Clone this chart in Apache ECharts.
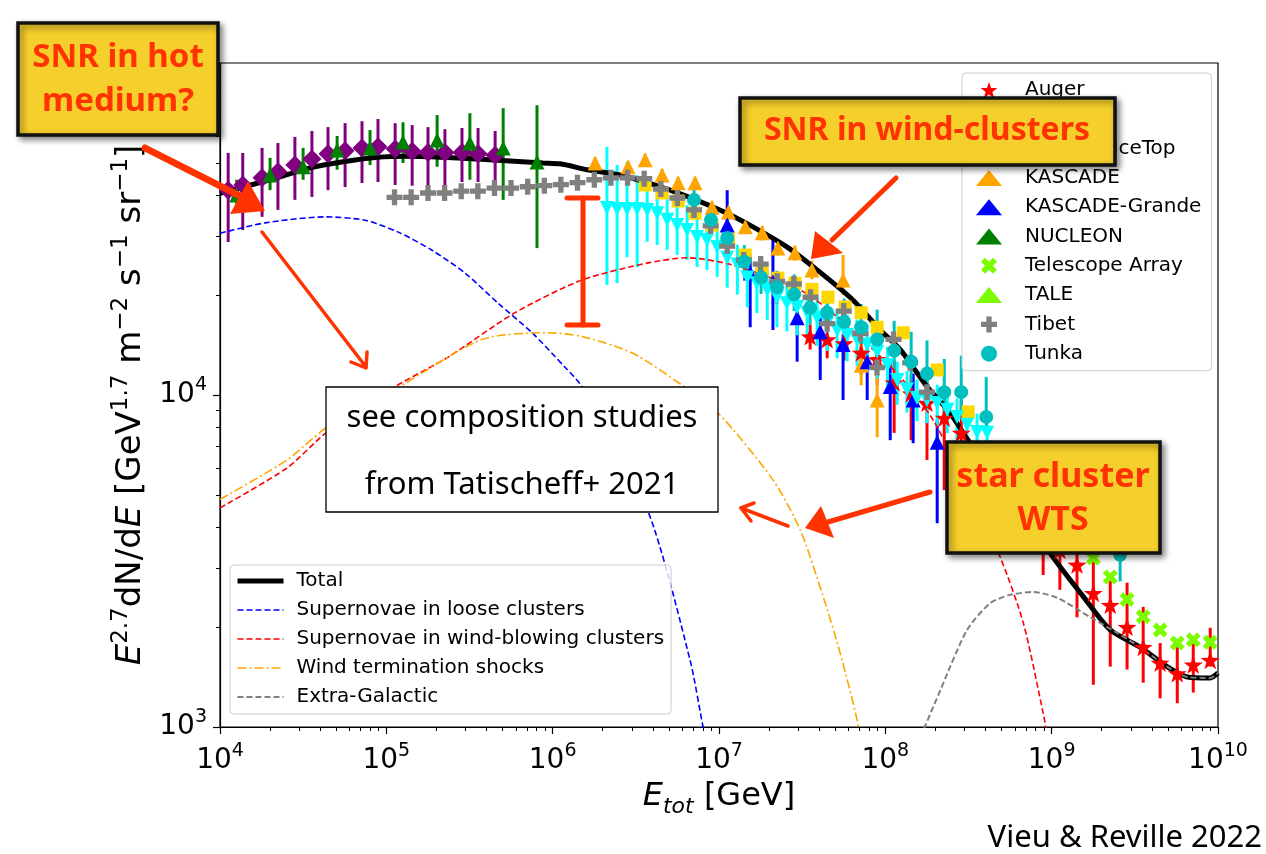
<!DOCTYPE html>
<html>
<head>
<meta charset="utf-8">
<title>All-particle cosmic-ray spectrum and star-cluster model</title>
<script src="https://cdn.jsdelivr.net/npm/echarts@6.0.0/dist/echarts.min.js"></script>
<style>
  html, body { margin: 0; padding: 0; background: #fff; }
  #chart { width: 1266px; height: 854px; }
</style>
</head>
<body>
<div id="chart"></div>
<script>
// ---------------- axis ticks (decade exponents) ----------------
const xTickExponents = [4, 5, 6, 7, 8, 9, 10];
const yTickExponents = [3, 4, 5];

// ---------------- measurements: energy [GeV], E^2.7 dN/dE ----------------
const augerE  = [3.53e7, 4.47e7, 5.65e7, 7.16e7, 8.93e7, 1.13e8, 1.43e8, 1.78e8, 2.26e8, 2.86e8, 8.89e8, 1.12e9, 1.42e9, 1.78e9, 2.25e9, 2.84e9, 3.55e9, 4.49e9, 5.69e9, 7.10e9, 8.98e9];
const augerF  = [15000, 14700, 14300, 13400, 12800, 10900, 10100, 9460, 8530, 7690, 3920, 3410, 3080, 2530, 2330, 2000, 1740, 1560, 1450, 1540, 1590];
const augerLo = [13700, 12900, 12700, 11500, 10700, 7690, 7310, 6370, 5170, 4830, 2870, 2590, 2140, 1340, 1520, 1490, 1360, 1220, 1180, 1270, 1520];
const augerHi = [16300, 16300, 15700, 15200, 14700, 12700, 11500, 11100, 10400, 9660, 4360, 3920, 3480, 3180, 2770, 2720, 2300, 1790, 1740, 1790, 1990];

const hawcE  = [1.12e4, 1.37e4, 1.79e4, 2.23e4, 2.82e4, 3.57e4, 4.46e4, 5.65e4, 7.14e4, 8.91e4, 1.13e5, 1.43e5, 1.78e5, 2.25e5, 2.85e5, 3.56e5, 4.51e5];
const hawcF  = [41400, 42900, 45100, 47000, 49300, 51400, 53300, 54400, 55500, 55900, 55100, 54200, 53800, 53800, 53800, 53300, 52700];
const hawcLo = [28900, 31400, 34400, 36100, 38700, 39500, 41400, 42300, 43500, 43800, 42900, 42700, 42700, 42700, 43800, 43800, 43500];
const hawcHi = [53600, 53600, 55500, 57400, 59900, 62400, 64100, 65900, 66800, 67800, 65900, 65000, 64100, 63200, 63700, 63700, 62400];

const icetopE = [3.60e6, 4.55e6, 5.68e6, 7.18e6, 9.08e6, 1.14e7, 1.44e7, 1.82e7, 2.26e7, 2.86e7, 3.62e7, 4.52e7, 5.73e7, 7.16e7, 8.93e7, 1.28e8, 2.05e8, 3.15e8];
const icetopF = [42900, 40600, 38400, 35300, 32500, 29500, 26400, 23800, 22500, 21700, 20800, 19700, 18400, 17700, 16000, 15400, 11900, 8890];

const kascadeE  = [1.80e6, 2.84e6, 3.60e6, 4.55e6, 5.68e6, 7.18e6, 9.08e6, 1.14e7, 1.44e7, 1.82e7, 2.26e7, 2.86e7, 3.62e7, 5.57e7, 7.16e7, 8.93e7];
const kascadeF  = [50000, 48700, 51100, 46000, 43600, 43600, 36800, 35600, 32100, 30800, 27700, 26800, 23800, 22200, 12300, 9660];
const kascadeLo = [48000, 46700, 49000, 44200, 41800, 41800, 35300, 34200, 30800, 29200, 26300, 25400, 22300, 20000, 10700, 7460];
const kascadeHi = [52000, 50700, 53200, 47900, 45400, 45400, 38300, 37100, 33400, 32300, 29100, 28200, 25400, 26400, 14200, 11900];

const grandeE  = [1.12e7, 1.54e7, 2.11e7, 2.95e7, 4.06e7, 5.57e7, 7.78e7, 1.07e8, 1.47e8, 2.05e8];
const grandeF  = [32500, 23300, 21900, 17100, 15500, 14200, 12600, 10600, 9660, 7210];
const grandeLo = [28300, 16000, 15700, 12600, 11100, 9660, 9660, 7310, 7160, 4110];
const grandeHi = [41400, 26400, 29300, 18000, 17100, 15200, 14700, 12500, 11600, 8420];

const nucleonE  = [1.26e4, 2.00e4, 3.16e4, 5.06e4, 7.98e4, 1.26e5, 2.02e5, 3.18e5, 5.04e5, 8.05e5];
const nucleonF  = [40000, 46000, 48700, 54700, 55500, 57800, 58600, 57400, 55500, 50300];
const nucleonLo = [37300, 41400, 44500, 47700, 49300, 50000, 48700, 44500, 38700, 27700];
const nucleonHi = [44500, 51800, 55500, 60300, 62800, 66300, 69700, 70600, 73100, 74600];

const taE = [1.78e9, 2.25e9, 2.84e9, 3.55e9, 4.49e9, 5.69e9, 7.10e9, 8.98e9];
const taF = [3230, 2830, 2420, 2150, 1960, 1790, 1830, 1800];

const taleE = [2.12e6, 2.44e6, 2.80e6, 3.22e6, 3.70e6, 4.25e6, 4.88e6, 5.60e6, 6.43e6, 7.38e6, 8.47e6, 9.75e6, 1.12e7, 1.29e7, 1.48e7, 1.69e7, 1.95e7, 2.23e7, 2.56e7, 2.95e7, 3.39e7, 3.89e7, 4.47e7, 5.13e7, 5.89e7, 6.76e7, 7.78e7, 8.93e7, 1.03e8, 1.18e8, 1.35e8, 1.55e8, 1.78e8, 2.05e8, 2.36e8, 2.70e8, 3.10e8, 3.56e8, 4.09e8];
const taleF = [36600, 36300, 36300, 36300, 36100, 35300, 33700, 32500, 31400, 29900, 29300, 27900, 25900, 24700, 22600, 21700, 20700, 19700, 18900, 18400, 17700, 17100, 16500, 15700, 15200, 14700, 14200, 13500, 12300, 11100, 10400, 9800, 9660, 9460, 9020, 8590, 8130, 7740, 7690];
// uncertainties in decades (log10 units) above / below each point
const taleErrUpDex = [0.184, 0.133, 0.142, 0.102, 0.096, 0.084, 0.075, 0.075, 0.075, 0.070, 0.066, 0.066, 0.063, 0.060, 0.060, 0.060, 0.060, 0.060, 0.060, 0.060, 0.060, 0.060, 0.060, 0.060, 0.060, 0.060, 0.060, 0.060, 0.055, 0.055, 0.055, 0.055, 0.055, 0.055, 0.055, 0.055, 0.055, 0.055, 0.055];
const taleErrDnDex = [0.232, 0.223, 0.145, 0.175, 0.096, 0.096, 0.090, 0.090, 0.090, 0.090, 0.090, 0.090, 0.090, 0.090, 0.090, 0.090, 0.090, 0.090, 0.085, 0.085, 0.085, 0.085, 0.085, 0.085, 0.080, 0.080, 0.080, 0.080, 0.075, 0.075, 0.070, 0.070, 0.070, 0.070, 0.070, 0.070, 0.070, 0.070, 0.070];

const tibetE = [1.12e5, 1.41e5, 1.78e5, 2.24e5, 2.82e5, 3.55e5, 4.47e5, 5.62e5, 7.08e5, 8.91e5, 1.12e6, 1.41e6, 1.78e6, 2.24e6, 2.82e6, 3.55e6, 4.47e6, 5.62e6, 7.08e6, 8.91e6, 1.12e7, 1.41e7, 1.78e7, 2.24e7, 2.82e7, 3.55e7, 4.47e7, 5.62e7, 7.08e7, 8.91e7, 1.12e8, 1.41e8, 1.78e8];
const tibetF = [39400, 39400, 40600, 40600, 41100, 41100, 42000, 42000, 42400, 42700, 43000, 43600, 44500, 45100, 45100, 44800, 41700, 39200, 36100, 32300, 28100, 25500, 24800, 22000, 21600, 19700, 16400, 17900, 15300, 12100, 14700, 12500, 10200];

const tunkaE = [7.08e6, 8.95e6, 1.12e7, 1.42e7, 1.79e7, 2.23e7, 2.83e7, 3.53e7, 4.47e7, 5.65e7, 7.16e7, 8.93e7, 1.13e8, 1.43e8, 1.78e8, 2.26e8, 2.86e8, 4.04e8, 2.58e9];
const tunkaF = [38700, 33700, 29700, 25200, 22600, 21100, 20100, 18300, 17700, 16600, 16000, 14700, 13600, 12600, 11600, 10200, 10200, 8590, 3300];
const tunkaErrUpDex = [0.05, 0.05, 0.05, 0.05, 0.05, 0.05, 0.06, 0.06, 0.06, 0.07, 0.07, 0.09, 0.09, 0.09, 0.10, 0.10, 0.11, 0.12, 0.08];
const tunkaErrDnDex = [0.05, 0.05, 0.05, 0.05, 0.05, 0.05, 0.05, 0.05, 0.05, 0.05, 0.05, 0.05, 0.06, 0.06, 0.06, 0.07, 0.07, 0.03, 0.08];

// ---------------- model components ----------------
const totalE = [1e4, 2.20e4, 3.48e4, 5.50e4, 8.79e4, 1.39e5, 3.51e5, 8.75e5, 1.11e6, 1.61e6, 2.54e6, 5.08e6, 1.02e7, 1.60e7, 2.57e7, 4.06e7, 6.40e7, 9.31e7, 1.23e8, 1.78e8, 2.45e8, 3.24e8, 5.62e8, 9.79e8, 1.55e9, 2.25e9, 3.40e9, 4.94e9, 6.53e9, 8.98e9, 1e10];
const totalF = [40500, 45100, 48300, 50400, 52000, 52400, 51400, 50000, 49700, 47700, 46000, 41400, 36000, 32100, 27900, 23400, 19300, 15700, 13700, 10600, 8830, 7160, 5200, 3340, 2470, 1960, 1740, 1520, 1415, 1405, 1455];

const looseE = [1e4, 1.87e4, 4.28e4, 7.45e4, 1.17e5, 1.88e5, 2.97e5, 4.70e5, 7.52e5, 1.19e6, 1.50e6, 3.75e6, 6.70e6, 8.02e6, 8.85e6];
const looseF = [30700, 33000, 34400, 33600, 31000, 27300, 23300, 18900, 15400, 12100, 10600, 4450, 1590, 1000, 795];

const windE = [1e4, 2.53e4, 4.34e4, 1.13e5, 2.35e5, 5.94e5, 1.50e6, 3.75e6, 6.43e6, 1.22e7, 3.08e7, 5.13e7, 1.18e8, 1.94e8, 3.15e8, 4.90e8, 6.75e8, 8.89e8, 9.79e8];
const windF = [4570, 6030, 7690, 10600, 13000, 17700, 22200, 25000, 25900, 24600, 20700, 17200, 11600, 8400, 5170, 3250, 2060, 1100, 850];

const wtsE = [1e4, 2.53e4, 4.34e4, 1.13e5, 3.76e5, 9.38e5, 1.50e6, 3.00e6, 6.00e6, 9.89e6, 2.11e7, 3.08e7, 4.23e7, 5.35e7, 6.76e7, 7.05e7];
const wtsF = [4850, 6370, 7960, 10400, 14700, 15400, 15000, 13400, 10700, 8830, 5550, 3920, 2470, 1670, 1050, 880];

const egE = [1.55e8, 2.14e8, 3.10e8, 4.27e8, 5.62e8, 7.74e8, 1.08e9, 1.71e9, 2.48e9, 3.40e9, 4.94e9, 6.53e9, 8.98e9, 1e10];
const egF = [880, 1290, 1960, 2360, 2500, 2550, 2450, 2140, 1920, 1740, 1520, 1415, 1405, 1455];

// ---------------- helpers ----------------
const L = Math.log10;
const pts = (E, F) => E.map((e, i) => [L(e), L(F[i])]);
const bars = (E, lo, hi) => E.map((e, i) => [L(e), L(lo[i]), L(hi[i])]);
const dexBars = (E, F, up, dn) => E.map((e, i) => [L(e), L(F[i]) - dn[i], L(F[i]) + up[i]]);

const FONT = 'DejaVu Sans';
const STAR = 'path://M0,-10L2.35,-3.24L9.51,-3.09L3.8,1.24L5.88,8.09L0,4L-5.88,8.09L-3.8,1.24L-9.51,-3.09L-2.35,-3.24Z';
const PLUS = 'path://M-1,-3L1,-3L1,-1L3,-1L3,1L1,1L1,3L-1,3L-1,1L-3,1L-3,-1L-1,-1Z';
const CROSS = 'path://M-2.83,-1.41L-1.41,-2.83L0,-1.41L1.41,-2.83L2.83,-1.41L1.41,0L2.83,1.41L1.41,2.83L0,1.41L-1.41,2.83L-2.83,1.41L-1.41,0Z';

function errorSeries(data, color, width) {
  return {
    type: 'custom', silent: true, z: 2, clip: true, data,
    renderItem: (params, api) => {
      const a = api.coord([api.value(0), api.value(1)]);
      const b = api.coord([api.value(0), api.value(2)]);
      return { type: 'line', shape: { x1: a[0], y1: a[1], x2: b[0], y2: b[1] },
               style: { stroke: color, lineWidth: width } };
    }
  };
}
function markers(name, E, F, symbol, size, color, extra) {
  return Object.assign({
    type: 'scatter', name, data: pts(E, F), symbol, symbolSize: size,
    symbolKeepAspect: true, itemStyle: { color, opacity: 1 }, z: 4, silent: true
  }, extra || {});
}
function model(name, E, F, color, width, type, z) {
  return { type: 'line', name, data: pts(E, F), symbol: 'none', smooth: 0.25, z, clip: true,
           silent: true, lineStyle: { color, width, type }, itemStyle: { color } };
}

// minor tick positions at 2..9 x 10^k
const minorTicks = (from, to) => {
  const out = [];
  for (let d = from; d < to; d++) for (let k = 2; k <= 9; k++) out.push(d + L(k));
  return out;
};

const tickRich = {
  b: { fontFamily: FONT, fontSize: 28, lineHeight: 38, color: '#000' },
  s: { fontFamily: FONT, fontSize: 19, lineHeight: 19, verticalAlign: 'top', color: '#000' }
};
const pow10 = v => '{b|10}{s|' + Math.round(v) + '}';

const axisBase = { type: 'value', splitLine: { show: false } };
const nameRichX = {
  i: { fontFamily: FONT, fontSize: 32, fontStyle: 'italic', lineHeight: 42, color: '#000' },
  n: { fontFamily: FONT, fontSize: 32, lineHeight: 42, color: '#000' },
  sub: { fontFamily: FONT, fontSize: 22, fontStyle: 'italic', lineHeight: 17, verticalAlign: 'bottom', color: '#000' }
};
const nameRichY = {
  i: { fontFamily: FONT, fontSize: 34, fontStyle: 'italic', lineHeight: 44, color: '#000' },
  n: { fontFamily: FONT, fontSize: 34, lineHeight: 44, color: '#000' },
  sup: { fontFamily: FONT, fontSize: 23, lineHeight: 23, verticalAlign: 'top', color: '#000' }
};

const xAxes = [
  Object.assign({}, axisBase, {
    min: 4, max: 10, interval: 1,
    axisLine: { show: true, lineStyle: { color: '#000', width: 1.2 } },
    axisTick: { show: true, length: 7, lineStyle: { color: '#000', width: 1.2 } },
    axisLabel: { margin: 15, formatter: pow10, rich: tickRich, customValues: xTickExponents },
    name: '{i|E}{sub|tot}{n| [GeV]}', nameLocation: 'middle', nameGap: 49,
    nameTextStyle: { rich: nameRichX }
  }),
  Object.assign({}, axisBase, {
    min: 4, max: 10, position: 'bottom',
    axisLine: { show: false }, axisLabel: { show: false },
    axisTick: { show: true, length: 4, customValues: minorTicks(4, 10), lineStyle: { color: '#000', width: 1 } }
  })
];
const yAxes = [
  Object.assign({}, axisBase, {
    min: 3, max: 5, interval: 1,
    axisLine: { show: true, lineStyle: { color: '#000', width: 1.2 } },
    axisTick: { show: true, length: 7, lineStyle: { color: '#000', width: 1.2 } },
    axisLabel: { margin: 13, formatter: pow10, rich: tickRich, customValues: yTickExponents },
    name: '{i|E}{sup|2.7}{n|dN/d}{i|E}{n| [GeV}{sup|1.7}{n| m}{sup|−2}{n| s}{sup|−1}{n| sr}{sup|−1}{n|]}',
    nameLocation: 'middle', nameRotate: 90, nameGap: 66,
    nameTextStyle: { rich: nameRichY, padding: [0, 20, 0, 0] }
  }),
  Object.assign({}, axisBase, {
    min: 3, max: 5, position: 'left',
    axisLine: { show: false }, axisLabel: { show: false },
    axisTick: { show: true, length: 4, customValues: minorTicks(3, 5), lineStyle: { color: '#000', width: 1 } }
  })
];

const series = [
  // error bars
  errorSeries(bars(augerE, augerLo, augerHi), '#ff0000', 3),
  errorSeries(bars(hawcE, hawcLo, hawcHi), '#800080', 3),
  errorSeries(bars(kascadeE, kascadeLo, kascadeHi), '#ffa500', 3),
  errorSeries(bars(grandeE, grandeLo, grandeHi), '#0000ff', 3),
  errorSeries(bars(nucleonE, nucleonLo, nucleonHi), '#008000', 3),
  errorSeries(dexBars(taleE, taleF, taleErrUpDex, taleErrDnDex), '#00ffff', 3),
  errorSeries(dexBars(tunkaE, tunkaF, tunkaErrUpDex, tunkaErrDnDex), '#00bfbf', 3),
  // model curves
  model('Total', totalE, totalF, '#000000', 5, 'solid', 3),
  model('Supernovae in loose clusters', looseE, looseF, '#0000ff', 1.6, [6, 3], 3),
  model('Supernovae in wind-blowing clusters', windE, windF, '#ff0000', 1.6, [6, 3], 3),
  model('Wind termination shocks', wtsE, wtsF, '#ffa500', 1.6, [9, 3, 2, 3], 3),
  model('Extra-Galactic', egE, egF, '#808080', 2, [6, 3], 3),
  // markers
  markers('Auger', augerE, augerF, STAR, 19, '#ff0000'),
  markers('HAWC', hawcE, hawcF, 'diamond', 19, '#800080'),
  markers('IceCube/IceTop', icetopE, icetopF, 'rect', 13, '#ffd700'),
  markers('KASCADE', kascadeE, kascadeF, 'triangle', 15, '#ffa500'),
  markers('KASCADE-Grande', grandeE, grandeF, 'triangle', 15, '#0000ff'),
  markers('NUCLEON', nucleonE, nucleonF, 'triangle', 15, '#008000'),
  markers('Telescope Array', taE, taF, CROSS, 15, '#7cfc00'),
  markers('TALE', taleE, taleF, 'triangle', 14, '#00ffff', { symbolRotate: 180 }),
  markers('Tibet', tibetE, tibetF, PLUS, 16, '#808080'),
  markers('Tunka', tunkaE, tunkaF, 'circle', 14, '#00bfbf')
];

const legendBox = {
  orient: 'vertical', selectedMode: false,
  backgroundColor: 'rgba(255,255,255,0.8)', borderColor: '#cccccc', borderWidth: 1, borderRadius: 4
};
const legends = [
  Object.assign({}, legendBox, {
    left: 962, top: 73, padding: [6, 10, 6, 14],
    itemWidth: 26, itemHeight: 16, itemGap: 7.3,
    textStyle: { fontFamily: FONT, fontSize: 20, color: '#000', lineHeight: 22, padding: [0, 0, 0, 18] },
    data: ['Auger', 'HAWC', 'IceCube/IceTop', 'KASCADE', 'KASCADE-Grande', 'NUCLEON', 'Telescope Array',
           { name: 'TALE', itemStyle: { color: '#7cfc00' } }, 'Tibet', 'Tunka']
  }),
  Object.assign({}, legendBox, {
    left: 230, top: 565, padding: [5, 7, 6, 5],
    itemWidth: 46, itemHeight: 14, itemGap: 7,
    itemStyle: { opacity: 0 },
    lineStyle: { width: 'inherit' },
    textStyle: { fontFamily: FONT, fontSize: 20, color: '#000', lineHeight: 22, padding: [0, 0, 0, 8] },
    data: ['Total', 'Supernovae in loose clusters', 'Supernovae in wind-blowing clusters',
           'Wind termination shocks', 'Extra-Galactic']
  })
];

// ---------------- annotations ----------------
const RED = '#ff3300', YELLOW = '#f5cf2b';
const HAND = '"Noto Sans", sans-serif';
const noteBox = (x, y, w, h) => ({
  type: 'rect', z: 100, shape: { x, y, width: w, height: h },
  style: { fill: YELLOW, stroke: '#111', lineWidth: 3.5, shadowBlur: 6, shadowOffsetX: 3,
           shadowOffsetY: 3, shadowColor: 'rgba(0,0,0,0.45)' }
});
const noteText = (text, x, y, size, color, weight) => ({
  type: 'text', z: 101, x, y,
  style: { text, fill: color, font: weight + ' ' + size + 'px ' + HAND,
           align: 'center', verticalAlign: 'middle', textAlign: 'center', textVerticalAlign: 'middle' }
});
const stroke = (points, w) => ({
  type: 'polyline', z: 99, shape: { points },
  style: { stroke: RED, lineWidth: w, lineCap: 'round', lineJoin: 'round', fill: null }
});
const head = points => ({ type: 'polygon', z: 99, shape: { points }, style: { fill: RED } });

const graphics = [
  // SNR in hot medium?
  stroke([[145, 148], [240, 196]], 7),
  head([[248, 181], [230, 214], [265, 211]]),
  stroke([[262, 232], [366, 367]], 3.5),
  stroke([[351, 362], [366, 368], [367, 352]], 3.5),
  noteBox(18, 23, 200, 112),
  noteText('SNR in hot', 118, 58, 33, RED, 'bold'),
  noteText('medium?', 118, 102, 33, RED, 'bold'),
  // SNR in wind-clusters
  stroke([[896, 178], [832, 240]], 5),
  head([[815, 231], [811, 259], [843, 253]]),
  noteBox(740, 98, 375, 67),
  noteText('SNR in wind-clusters', 927, 131, 32, RED, 'bold'),
  // range bar
  stroke([[583, 198], [583, 325]], 5),
  stroke([[567, 198], [598, 198]], 5),
  stroke([[567, 325], [598, 325]], 5),
  // star cluster WTS
  stroke([[930, 492], [828, 522]], 5),
  head([[805, 528], [821, 506], [834, 538]]),
  stroke([[788, 526], [741, 508]], 3.5),
  stroke([[754, 503], [741, 508], [751, 521]], 3.5),
  noteBox(947, 442, 213, 111),
  noteText('star cluster', 1053, 477, 34, RED, 'bold'),
  noteText('WTS', 1053, 520, 34, RED, 'bold'),
  // composition note
  { type: 'rect', z: 100, shape: { x: 326, y: 387, width: 392, height: 125 },
    style: { fill: '#fff', stroke: '#000', lineWidth: 1.3 } },
  noteText('see composition studies', 522, 418, 31, '#000', 'normal'),
  noteText('from Tatischeff+ 2021', 522, 485, 31, '#000', 'normal'),
  // credit
  { type: 'text', z: 101, x: 1262, y: 838,
    style: { text: 'Vieu & Reville 2022', fill: '#000', font: 'normal 31px ' + HAND,
             align: 'right', verticalAlign: 'middle', textAlign: 'right', textVerticalAlign: 'middle' } }
];

const chart = echarts.init(document.getElementById('chart'), null, { renderer: 'canvas' });
chart.setOption({
  animation: false,
  backgroundColor: '#fff',
  grid: { left: 220, top: 63, width: 998, height: 664, show: true, borderColor: '#000', borderWidth: 1.2, backgroundColor: 'transparent' },
  xAxis: xAxes,
  yAxis: yAxes,
  legend: legends,
  series,
  graphic: { elements: graphics }
});
</script>
</body>
</html>
